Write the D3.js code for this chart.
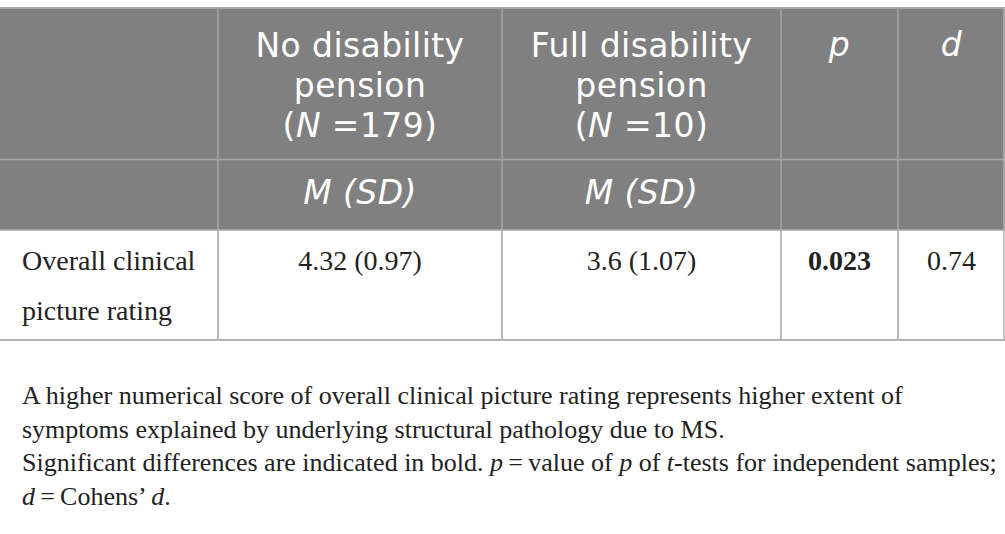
<!DOCTYPE html>
<html>
<head>
<meta charset="utf-8">
<script src="https://cdn.jsdelivr.net/npm/d3@7"></script>
<style>
  html, body { margin: 0; padding: 0; background: #fff; }
  svg { display: block; }
</style>
</head>
<body>
<svg id="chart" width="1005" height="534"></svg>
<script>
// ---- data ----
const groups = ["No disability pension", "Full disability pension"];
const groupN = [179, 10];
const statCols = ["p", "d"];
const subHeader = "M (SD)";
const rowLabel = ["Overall clinical", "picture rating"];
const means = [4.32, 3.6];
const sds = [0.97, 1.07];
const pValue = 0.023;
const dValue = 0.74;
const pSignificant = true;
const notes = [
  [{t:"A higher numerical score of overall clinical picture rating represents higher extent of"}],
  [{t:"symptoms explained by underlying structural pathology due to MS."}],
  [{t:"Significant differences are indicated in bold. "},{t:"p",i:1},{t:"\u2009=\u2009value of "},{t:"p",i:1},{t:" of "},{t:"t",i:1},{t:"-tests for independent samples;"}],
  [{t:"d",i:1},{t:"\u2009=\u2009Cohens\u2019 "},{t:"d",i:1},{t:"."}]
];

// ---- layout ----
const svg = d3.select("#chart");
const colKeys = ["label", "g0", "g1", "p", "d"];
const colEdges = [0, 218, 502, 781, 898, 1005];
const x = d3.scaleOrdinal().domain(colKeys).range(colEdges.slice(0, 5));
const w = k => colEdges[colKeys.indexOf(k) + 1] - x(k);
const cx = k => x(k) + w(k) / 2;

const yTop = 8, yH1 = 159.5, yH2 = 230, yBody = 340;
const headFill = "#808080", lineCol = "#a6a6a6", bodyLine = "#b3b3b3";
const sans = "'DejaVu Sans', sans-serif";
const serif = "'Liberation Serif', 'Times New Roman', serif";

// header background
svg.append("rect").attr("x", 0).attr("y", yTop).attr("width", 1005).attr("height", yH2 - yTop).attr("fill", headFill);

// horizontal rules
[yTop, yH1, yH2].forEach(yy => svg.append("line").attr("x1", 0).attr("x2", 1005).attr("y1", yy).attr("y2", yy)
  .attr("stroke", lineCol).attr("stroke-width", yy === yTop ? 2 : 1.5));
svg.append("line").attr("x1", 0).attr("x2", 1005).attr("y1", yBody).attr("y2", yBody).attr("stroke", bodyLine).attr("stroke-width", 2);

// vertical rules
svg.selectAll("line.v").data(colEdges.slice(1, 5)).join("line").attr("class", "v")
  .attr("x1", d => d).attr("x2", d => d).attr("y1", yTop).attr("y2", yBody)
  .attr("stroke", lineCol).attr("stroke-width", 1.5);
svg.append("line").attr("x1", 1004).attr("x2", 1004).attr("y1", yTop).attr("y2", yBody).attr("stroke", bodyLine).attr("stroke-width", 1.5);

// group headers (multi-line text as tspans)
const headText = svg.append("g").attr("font-family", sans).attr("font-size", 33)
  .attr("fill", "#fff").attr("text-anchor", "middle").attr("letter-spacing", 0.4);
groups.forEach((g, i) => {
  const k = "g" + i;
  const words = g.split(" ");
  const lines = [words.slice(0, 2).join(" "), words.slice(2).join(" ")];
  const t = headText.append("text").attr("x", cx(k)).attr("y", 57);
  lines.forEach((ln, j) => t.append("tspan").attr("x", cx(k)).attr("dy", j === 0 ? 0 : 40).text(ln));
  t.append("tspan").attr("x", cx(k)).attr("dy", 40).text("(");
  t.append("tspan").attr("font-style", "italic").text("N");
  t.append("tspan").text(" =" + groupN[i] + ")");
  headText.append("text").attr("x", cx(k)).attr("y", 204).attr("font-style", "italic").text(subHeader);
});
statCols.forEach(s => headText.append("text").attr("x", cx(s)).attr("y", 56).attr("font-style", "italic").text(s));

// body
const body = svg.append("g").attr("font-family", serif).attr("font-size", 28).attr("fill", "#222");
const lab = body.append("text").attr("x", 22).attr("y", 270);
rowLabel.forEach((t, j) => lab.append("tspan").attr("x", 22).attr("dy", j === 0 ? 0 : 50).text(t));
means.forEach((m, i) => body.append("text").attr("x", cx("g" + i)).attr("y", 270).attr("text-anchor", "middle")
  .text(`${m} (${d3.format(".2f")(sds[i])})`));
body.append("text").attr("x", cx("p")).attr("y", 270).attr("text-anchor", "middle")
  .attr("font-weight", pSignificant ? "bold" : "normal").text(d3.format(".3f")(pValue));
body.append("text").attr("x", cx("d")).attr("y", 270).attr("text-anchor", "middle").text(d3.format(".2f")(dValue));

// notes
const noteG = svg.append("g").attr("font-family", serif).attr("font-size", 26).attr("fill", "#222");
notes.forEach((parts, j) => {
  const t = noteG.append("text").attr("x", 22).attr("y", 404 + j * 33.5);
  parts.forEach(p => t.append("tspan").attr("font-style", p.i ? "italic" : null).text(p.t));
});
</script>
</body>
</html>
